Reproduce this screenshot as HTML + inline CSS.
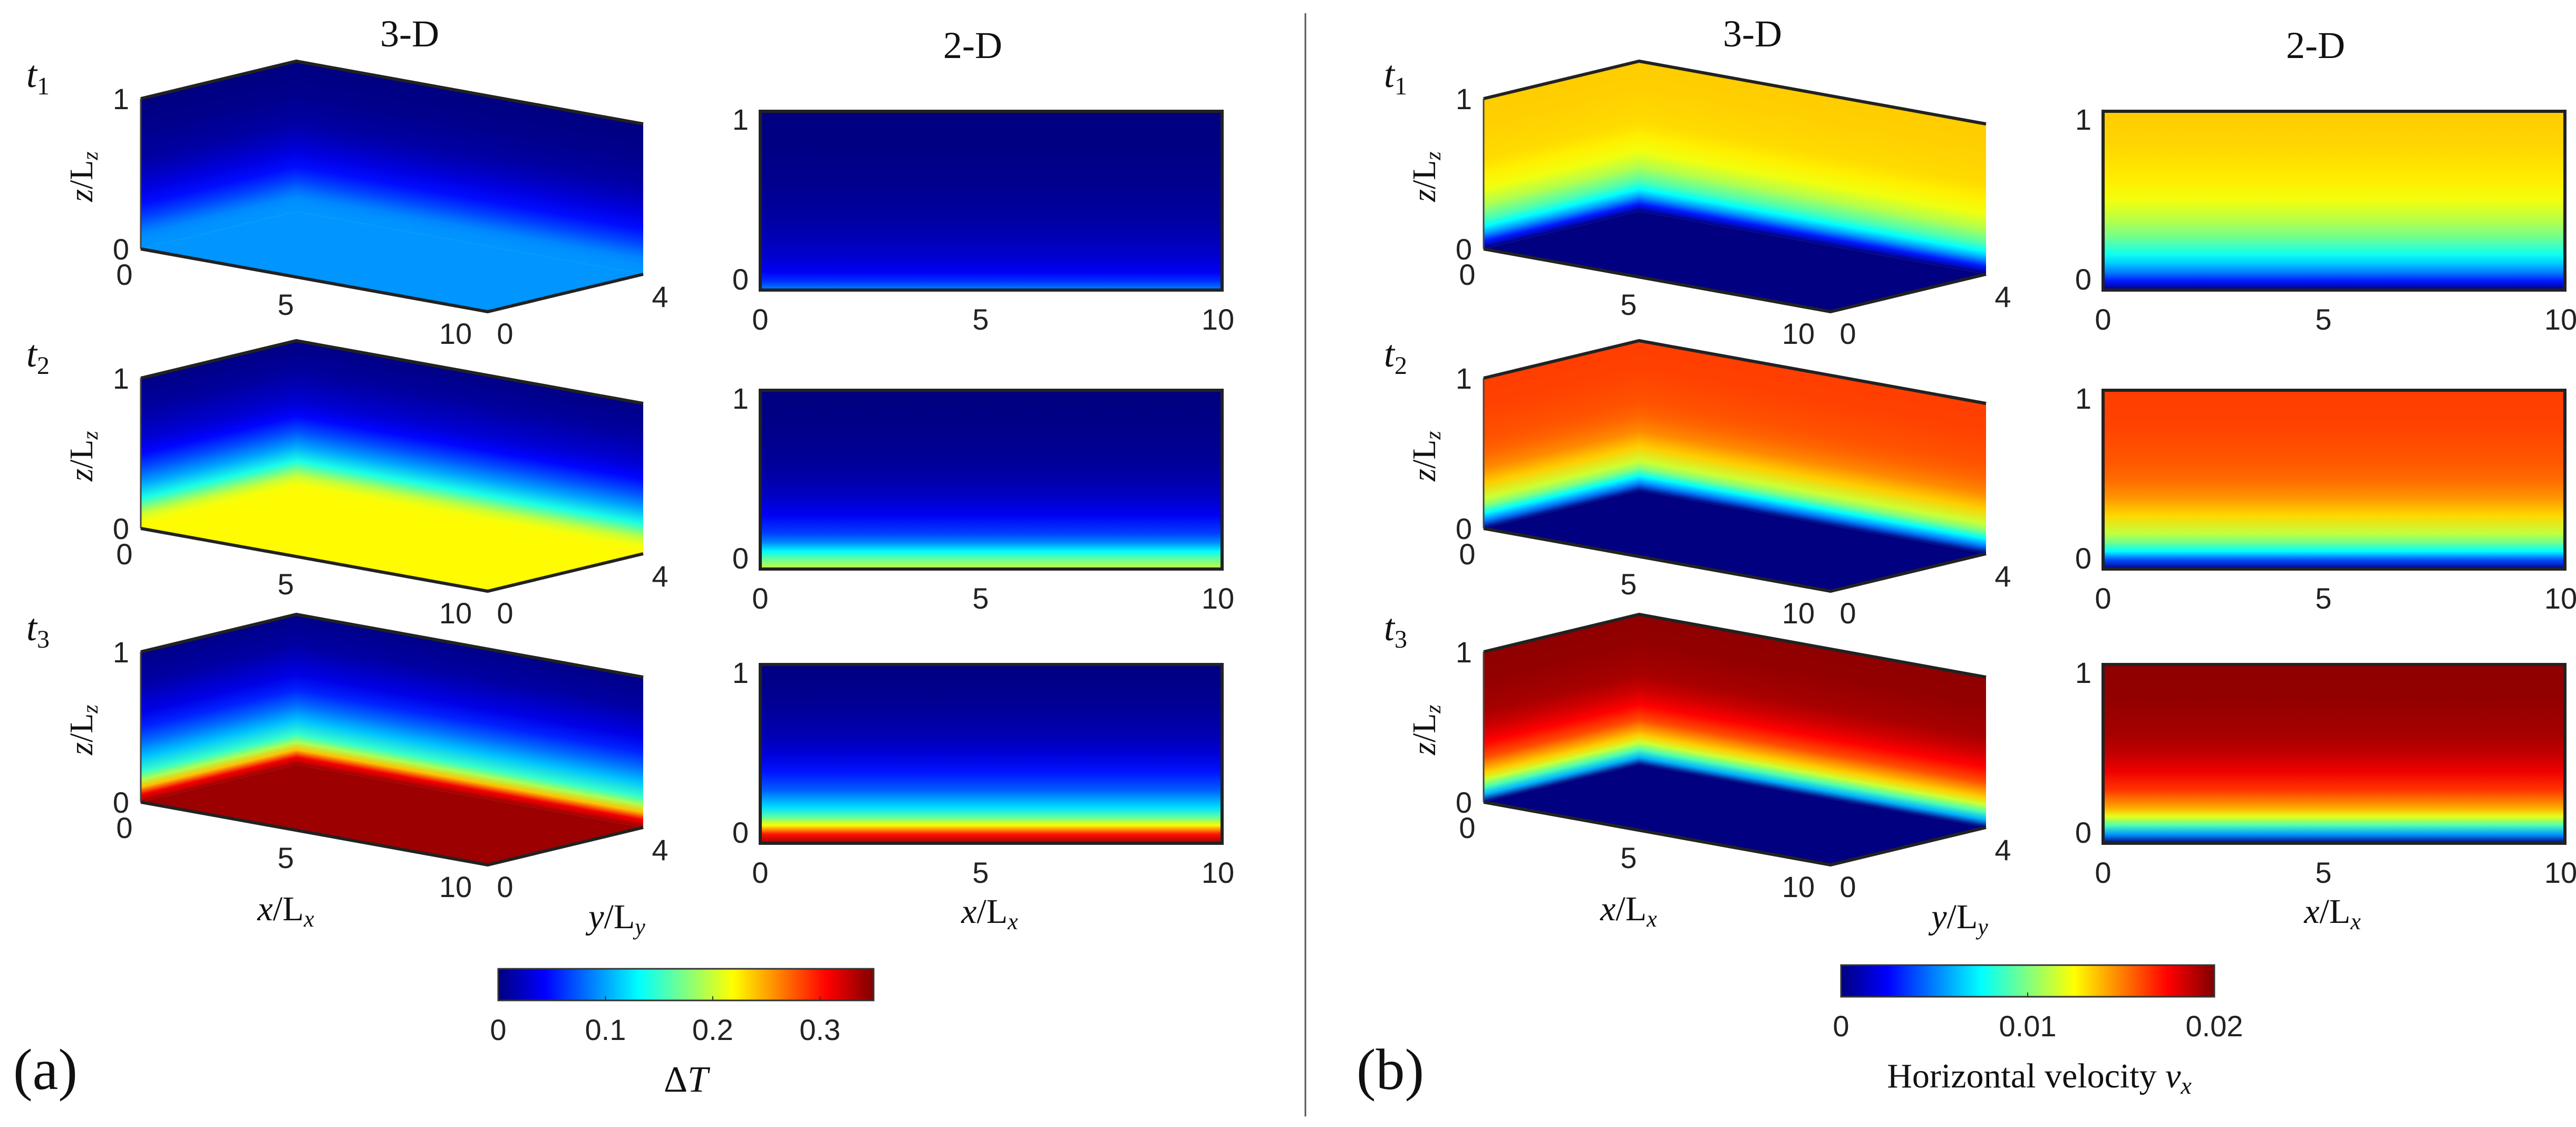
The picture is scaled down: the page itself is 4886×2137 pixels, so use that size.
<!DOCTYPE html>
<html><head><meta charset="utf-8"><style>
html,body{margin:0;padding:0;background:#fff;}
svg{display:block;}
.tk{font-family:"Liberation Sans","DejaVu Sans",sans-serif;font-size:56px;fill:#222;}
.sr{font-family:"Liberation Serif",serif;fill:#111;}
</style></head><body>
<svg id="fig" width="4886" height="2137" viewBox="0 0 4886 2137" xmlns="http://www.w3.org/2000/svg">
<defs id="defs"></defs>
<line x1="2476" y1="25" x2="2476" y2="2117" stroke="#555" stroke-width="3"/>
<g id="plots"></g>
<text class="sr" x="86" y="2065" font-size="110" text-anchor="middle">(a)</text>
<text class="sr" x="2637" y="2065" font-size="110" text-anchor="middle">(b)</text>
<text class="sr" x="1301" y="2070" font-size="70" text-anchor="middle">Δ<tspan font-style="italic">T</tspan></text>
<text class="sr" x="3868" y="2062" font-size="66" text-anchor="middle">Horizontal velocity <tspan font-style="italic">v</tspan><tspan font-style="italic" font-size="46" dy="12">x</tspan></text>
</svg>
<script>
// z sample positions (0 = bottom, 1 = top)
const zSamples=[0,0.05,0.1,0.15,0.2,0.3,0.4,0.5,0.6,0.8,1];
// Temperature difference ΔT (colour range 0..0.35)
const dT_t1_3d=[0.095,0.094,0.09,0.08,0.068,0.048,0.033,0.021,0.012,0.004,0];
const dT_t1_2d=[0.09,0.06,0.04,0.032,0.026,0.018,0.012,0.008,0.005,0.002,0];
const dT_t2_3d=[0.22,0.215,0.2,0.17,0.14,0.1,0.07,0.045,0.028,0.01,0.002];
const dT_t2_2d=[0.20,0.17,0.13,0.09,0.065,0.04,0.025,0.015,0.008,0.003,0];
const dT_t3_3d=[0.34,0.31,0.24,0.19,0.15,0.11,0.08,0.055,0.035,0.012,0.003];
const dT_t3_2d=[0.34,0.30,0.22,0.16,0.12,0.075,0.05,0.03,0.018,0.006,0];
// Horizontal velocity v_x (colour range 0..0.02)
const vx_t1_3d=[0,0.003,0.0055,0.0075,0.009,0.011,0.0122,0.0128,0.0132,0.0134,0.0135];
const vx_t1_2d=[0,0.003,0.005,0.0065,0.0078,0.0098,0.0112,0.0122,0.0128,0.0133,0.0135];
const vx_t2_3d=[0,0.005,0.0075,0.01,0.0115,0.0135,0.0148,0.0155,0.0159,0.0162,0.0163];
const vx_t2_2d=[0,0.004,0.0075,0.0098,0.0113,0.0133,0.0146,0.0154,0.0158,0.0162,0.0163];
const vx_t3_3d=[0,0.006,0.009,0.0115,0.0135,0.016,0.0175,0.0185,0.0192,0.0196,0.0197];
const vx_t3_2d=[0,0.0055,0.009,0.012,0.0142,0.0165,0.0178,0.0187,0.0192,0.0196,0.0197];
const dTMax=0.35, vxMax=0.02;
const dTTicks=[0,0.1,0.2,0.3], dTTickLabels=["0","0.1","0.2","0.3"];
const vxTicks=[0,0.01,0.02], vxTickLabels=["0","0.01","0.02"];
const rowLabels=["t1","t2","t3"];

const NS="http://www.w3.org/2000/svg";
const defs=document.getElementById('defs'), plots=document.getElementById('plots');
function mk(tag,attrs,parent){const e=document.createElementNS(NS,tag);for(const k in attrs)e.setAttribute(k,attrs[k]);(parent||plots).appendChild(e);return e;}
function jet(v){v=Math.max(0,Math.min(1,v));
 const r=Math.min(Math.max(Math.min(4*v-1.5,-4*v+4.5),0),1);
 const g=Math.min(Math.max(Math.min(4*v-0.5,-4*v+3.5),0),1);
 const b=Math.min(Math.max(Math.min(4*v+0.5,-4*v+2.5),0),1);
 return `rgb(${Math.round(r*255)},${Math.round(g*255)},${Math.round(b*255)})`;}
let gid=0;
function grad(vals,max){const id='g'+(gid++);
 const g=mk('linearGradient',{id:id,x1:0,y1:1,x2:0,y2:0},defs);
 zSamples.forEach((z,i)=>{mk('stop',{offset:z,'stop-color':jet(vals[i]/max)},g);});
 return id;}
function txt(x,y,s,cls,extra,name){const t=mk('text',Object.assign({x:x,y:y,class:cls},extra||{}));t.textContent=s;
 
 return t;}

const rowOff3=[0,530,1049], rowOff2=[0,529,1049];
function panel(dx,d3,d2,max,key){
 for(let r=0;r<3;r++){
  const oy=rowOff3[r];
  const g=mk('g',{});
  
  
  const id=grad(d3[r],max);
  const fl=mk('polygon',{points:`${267+dx},${472+oy} ${562+dx},${401+oy} ${1220+dx},${520+oy} ${925+dx},${591+oy}`,fill:jet(d3[r][0]/max)},g);
  
  
  const lw=mk('rect',{x:0,y:0,width:1,height:1,fill:`url(#${id})`,transform:`matrix(295,-71,0,285,${267+dx},${187+oy})`},g);
  
  
  const rw=mk('rect',{x:0,y:0,width:1,height:1,fill:`url(#${id})`,transform:`matrix(658,119,0,285,${562+dx},${116+oy})`},g);
  
  
  mk('polyline',{points:`${267+dx},${187+oy} ${562+dx},${116+oy} ${1220+dx},${235+oy}`,fill:'none',stroke:'#222','stroke-width':6},g);
  mk('polyline',{points:`${267+dx},${472+oy} ${925+dx},${591+oy} ${1220+dx},${520+oy}`,fill:'none',stroke:'#222','stroke-width':6},g);
  mk('line',{x1:267+dx,y1:187+oy,x2:267+dx,y2:472+oy,stroke:'#444','stroke-width':3},g);
  txt(245+dx,207+oy,"1",'tk',{'text-anchor':'end'},'z-tick-1');
  txt(245+dx,492+oy,"0",'tk',{'text-anchor':'end'},'z-tick-0');
  txt(236+dx,540+oy,"0",'tk',{'text-anchor':'middle'},'x-tick-0');
  txt(542+dx,597+oy,"5",'tk',{'text-anchor':'middle'},'x-tick-5');
  txt(864+dx,652+oy,"10",'tk',{'text-anchor':'middle'},'x-tick-10');
  txt(958+dx,652+oy,"0",'tk',{'text-anchor':'middle'},'y-tick-0');
  txt(1252+dx,582+oy,"4",'tk',{'text-anchor':'middle'},'y-tick-4');
  const zl=txt(0,0,"",'sr',{'font-size':62,transform:`translate(${175+dx},${335+oy}) rotate(-90)`,'text-anchor':'middle'},'z-axis-label');
  zl.innerHTML='<tspan font-style="italic">z</tspan>/L<tspan font-style="italic" font-size="42" dy="10">z</tspan>';
  const tl=txt(50+dx+(dx?28:0),165+oy,"",'sr',{'font-size':72},'time-label-'+rowLabels[r]);
  tl.innerHTML='<tspan font-style="italic">t</tspan><tspan font-size="48" dy="14">'+(r+1)+'</tspan>';
  const oy2=rowOff2[r];
  const g2=mk('g',{});
  
  
  const id2=grad(d2[r],max);
  mk('rect',{x:1442+dx,y:211+oy2,width:876,height:339,fill:`url(#${id2})`,stroke:'#222','stroke-width':6},g2);
  txt(1420+dx,246+oy2,"1",'tk',{'text-anchor':'end'},'z-tick-1');
  txt(1420+dx,549+oy2,"0",'tk',{'text-anchor':'end'},'z-tick-0');
  txt(1442+dx,625+oy2,"0",'tk',{'text-anchor':'middle'},'x-tick-0');
  txt(1860+dx,625+oy2,"5",'tk',{'text-anchor':'middle'},'x-tick-5');
  txt(2310+dx,625+oy2,"10",'tk',{'text-anchor':'middle'},'x-tick-10');
 }
 txt(777+dx,88,"3-D",'sr',{'font-size':72,'text-anchor':'middle'},'title-3d');
 txt(1845+dx,110,"2-D",'sr',{'font-size':72,'text-anchor':'middle'},'title-2d');
 const a=txt(542+dx,1745,"",'sr',{'font-size':66,'text-anchor':'middle'},'x-axis-label-3d');
 a.innerHTML='<tspan font-style="italic">x</tspan>/L<tspan font-style="italic" font-size="44" dy="12">x</tspan>';
 const b=txt(1170+dx,1760,"",'sr',{'font-size':66,'text-anchor':'middle'},'y-axis-label-3d');
 b.innerHTML='<tspan font-style="italic">y</tspan>/L<tspan font-style="italic" font-size="44" dy="12">y</tspan>';
 const c=txt(1877+dx,1750,"",'sr',{'font-size':66,'text-anchor':'middle'},'x-axis-label-2d');
 c.innerHTML='<tspan font-style="italic">x</tspan>/L<tspan font-style="italic" font-size="44" dy="12">x</tspan>';
}
panel(0,[dT_t1_3d,dT_t2_3d,dT_t3_3d],[dT_t1_2d,dT_t2_2d,dT_t3_2d],dTMax,'temperature');
panel(2547,[vx_t1_3d,vx_t2_3d,vx_t3_3d],[vx_t1_2d,vx_t2_2d,vx_t3_2d],vxMax,'velocity');

function colorbar(x0,y0,w,h,max,ticks,labels,name){
 const id='cb'+name;
 const g=mk('linearGradient',{id:id,x1:0,y1:0,x2:1,y2:0},defs);
 for(let i=0;i<=8;i++)mk('stop',{offset:i/8,'stop-color':jet(i/8)},g);
 const r=mk('rect',{x:x0,y:y0,width:w,height:h,fill:`url(#${id})`,stroke:'#333','stroke-width':3});
 
 
 ticks.forEach((t,i)=>{const x=x0+w*t/max;
  mk('line',{x1:x,y1:y0+h,x2:x,y2:y0+h-8,stroke:'#333','stroke-width':2});
  txt(x,y0+h+75,labels[i],'tk',{'text-anchor':'middle'},'colorbar-tick');});
}
colorbar(945,1837,712,60,dTMax,dTTicks,dTTickLabels,'a');
colorbar(3492,1830,708,60,vxMax,vxTicks,vxTickLabels,'b');
</script>
</body></html>
